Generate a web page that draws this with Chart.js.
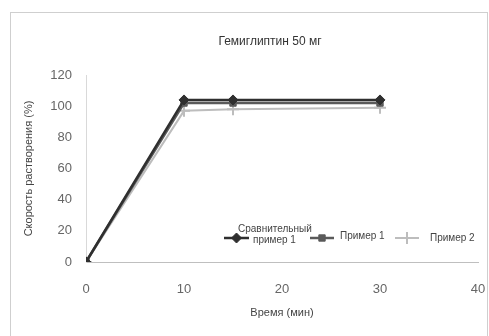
<!DOCTYPE html>
<html>
<head>
<meta charset="utf-8">
<script src="https://cdn.jsdelivr.net/npm/chart.js@4/dist/chart.umd.min.js"></script>
<style>
    html, body { margin: 0; padding: 0; background: #fff; }
    #wrap { position: relative; width: 489px; height: 336px; }
</style>
</head>
<body>
<div id="wrap"><canvas id="chart" width="489" height="336"></canvas></div>
<script>
// Data
const timeMin = [0, 10, 15, 30];
const comparative1 = [0, 104, 104, 104];
const example1 = [0, 102, 102, 102];
const example2 = [0, 97, 98, 99];
const xTicks = [0, 10, 20, 30, 40];
const yTicks = [0, 20, 40, 60, 80, 100, 120];

const chartTitle = 'Гемиглиптин 50 мг';
const seriesLabels = [['Сравнительный', 'пример 1'], ['Пример 1'], ['Пример 2']];

const FONT = '"Liberation Sans", Arial, sans-serif';
const toPoints = vals => vals.map((v, i) => ({ x: timeMin[i], y: v }));

// Frame, title and legend drawn on canvas
const framePlugin = {
    id: 'frame',
    beforeDraw(chart) {
        const ctx = chart.ctx;
        ctx.save();
        ctx.fillStyle = '#fff';
        ctx.fillRect(0, 0, chart.width, chart.height);
        ctx.strokeStyle = '#cfcfcf';
        ctx.lineWidth = 1;
        ctx.strokeRect(10.5, 12.5, 477, 340);
        ctx.restore();
    },
    afterDraw(chart) {
        const ctx = chart.ctx;
        ctx.save();
        ctx.fillStyle = '#333';
        ctx.font = '12px ' + FONT;
        ctx.textAlign = 'center';
        ctx.textBaseline = 'middle';
        ctx.fillText(chartTitle, 270, 42);

        const items = [
            { x0: 224, x1: 249, y: 238, tx: [238, 253], ty: [229, 240] },
            { x0: 310, x1: 334, y: 238, tx: [340], ty: [236] },
            { x0: 395, x1: 419, y: 238, tx: [430], ty: [238] }
        ];
        chart.data.datasets.forEach((ds, i) => {
            const it = items[i];
            ctx.strokeStyle = ds.borderColor;
            ctx.fillStyle = ds.backgroundColor;
            ctx.lineWidth = ds.borderWidth;
            ctx.beginPath();
            ctx.moveTo(it.x0, it.y);
            ctx.lineTo(it.x1, it.y);
            ctx.stroke();
            ctx.lineWidth = ds.pointBorderWidth || 1;
            Chart.helpers.drawPoint(ctx, {
                pointStyle: ds.pointStyle,
                radius: ds.pointRadius,
                borderWidth: ds.pointBorderWidth || 1,
                rotation: 0
            }, (it.x0 + it.x1) / 2, it.y);
            ctx.fillStyle = '#444';
            ctx.font = '10px ' + FONT;
            ctx.textAlign = 'left';
            ctx.textBaseline = 'middle';
            seriesLabels[i].forEach((line, k) => {
                ctx.fillText(line, it.tx[k], it.ty[k]);
            });
        });
        ctx.restore();
    }
};

const ctx = document.getElementById('chart').getContext('2d');
new Chart(ctx, {
    type: 'line',
    data: {
        datasets: [
            {
                label: 'Сравнительный пример 1',
                data: toPoints(comparative1),
                borderColor: '#2f2f2f',
                backgroundColor: '#2f2f2f',
                borderWidth: 2.5,
                pointStyle: 'rectRot',
                pointRadius: 5,
                pointBorderWidth: 1
            },
            {
                label: 'Пример 1',
                data: toPoints(example1),
                borderColor: '#5a5a5a',
                backgroundColor: '#5a5a5a',
                borderWidth: 2.5,
                pointStyle: 'rect',
                pointRadius: 4.5,
                pointBorderWidth: 1
            },
            {
                label: 'Пример 2',
                data: toPoints(example2),
                borderColor: '#bdbdbd',
                backgroundColor: '#bdbdbd',
                borderWidth: 2,
                pointStyle: 'cross',
                pointRadius: 6,
                pointBorderWidth: 2
            }
        ]
    },
    options: {
        responsive: false,
        animation: false,
        layout: { padding: { left: 18, right: 11, top: 75, bottom: 12 } },
        plugins: {
            legend: { display: false },
            tooltip: { enabled: false },
            title: { display: false }
        },
        scales: {
            x: {
                type: 'linear',
                min: 0,
                max: 40,
                afterBuildTicks: s => { s.ticks = xTicks.map(v => ({ value: v })); },
                grid: { display: false, drawTicks: false },
                border: { color: '#bfbfbf', width: 1 },
                ticks: {
                    color: '#666',
                    padding: 20,
                    font: { family: FONT, size: 13 }
                },
                title: {
                    display: true,
                    text: 'Время (мин)',
                    color: '#444',
                    padding: { top: 8 },
                    font: { family: FONT, size: 11 }
                },
                afterFit: s => { s.height = 62; s.paddingRight = 0; s.paddingLeft = 0; }
            },
            y: {
                min: 0,
                max: 120,
                afterBuildTicks: s => { s.ticks = yTicks.map(v => ({ value: v })); },
                grid: { display: false, drawTicks: false },
                border: { color: '#d9d9d9', width: 1 },
                ticks: {
                    color: '#666',
                    padding: 14,
                    font: { family: FONT, size: 13 }
                },
                title: {
                    display: true,
                    text: 'Скорость растворения (%)',
                    color: '#444',
                    padding: { bottom: 10 },
                    font: { family: FONT, size: 11 }
                },
                afterFit: s => { s.width = 68; s.paddingTop = 0; s.paddingBottom = 0; }
            }
        }
    },
    plugins: [framePlugin]
});
</script>
</body>
</html>
